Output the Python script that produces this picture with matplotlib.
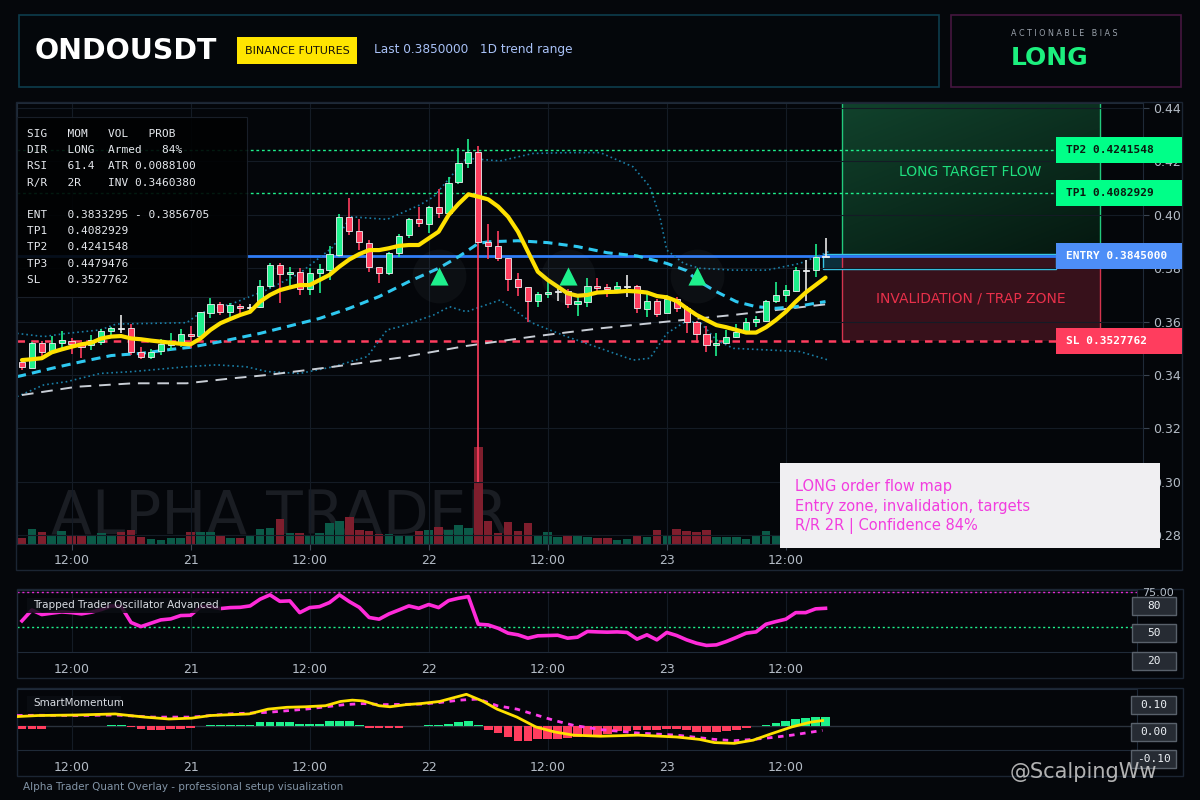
import matplotlib
matplotlib.use("Agg")
import matplotlib.pyplot as plt
import numpy as np
from matplotlib.patches import Rectangle
from matplotlib import transforms

# hourly candles, first bar = 20th 07:00
opens = [0.3450, 0.3428, 0.3519, 0.3488, 0.3519, 0.3527, 0.3515, 0.3512, 0.3525, 0.3566,
         0.3577, 0.3577, 0.3485, 0.3469, 0.3491, 0.3512, 0.3519, 0.3552, 0.3547, 0.3631,
         0.3665, 0.3635, 0.3660, 0.3652, 0.3656, 0.3735, 0.3812, 0.3778, 0.3787, 0.3721,
         0.3781, 0.3793, 0.3850, 0.3991, 0.3939, 0.3896, 0.3803, 0.3783, 0.3856, 0.3924,
         0.3983, 0.3966, 0.4028, 0.4006, 0.4122, 0.4193, 0.4234, 0.3897, 0.3884, 0.3837,
         0.3758, 0.3728, 0.3679, 0.3702, 0.3712, 0.3715, 0.3665, 0.3675, 0.3733, 0.3728,
         0.3721, 0.3731, 0.3733, 0.3646, 0.3677, 0.3631, 0.3685, 0.3650, 0.3597, 0.3552,
         0.3512, 0.3519, 0.3541, 0.3566, 0.3597, 0.3604, 0.3677, 0.3698, 0.3716, 0.3791,
         0.3793, 0.3843]
highs = [0.3450, 0.3525, 0.3529, 0.3546, 0.3565, 0.3540, 0.3531, 0.3550, 0.3571, 0.3581,
         0.3625, 0.3591, 0.3504, 0.3496, 0.3534, 0.3556, 0.3571, 0.3584, 0.3635, 0.3687,
         0.3675, 0.3669, 0.3666, 0.3666, 0.3756, 0.3818, 0.3818, 0.3806, 0.3800, 0.3800,
         0.3816, 0.3883, 0.4003, 0.4062, 0.3983, 0.3906, 0.3803, 0.3862, 0.3927, 0.3989,
         0.4031, 0.4033, 0.4095, 0.4140, 0.4251, 0.4283, 0.4258, 0.3966, 0.3939, 0.3837,
         0.3781, 0.3728, 0.3712, 0.3750, 0.3731, 0.3721, 0.3693, 0.3765, 0.3762, 0.3741,
         0.3747, 0.3775, 0.3737, 0.3706, 0.3685, 0.3700, 0.3693, 0.3659, 0.3604, 0.3584,
         0.3556, 0.3569, 0.3591, 0.3612, 0.3621, 0.3681, 0.3747, 0.3737, 0.3806, 0.3831,
         0.3891, 0.3914]
lows = [0.3419, 0.3425, 0.3469, 0.3481, 0.3494, 0.3478, 0.3463, 0.3494, 0.3512, 0.3541,
        0.3556, 0.3475, 0.3459, 0.3459, 0.3475, 0.3494, 0.3506, 0.3500, 0.3544, 0.3612,
        0.3625, 0.3619, 0.3634, 0.3644, 0.3650, 0.3725, 0.3669, 0.3731, 0.3700, 0.3700,
        0.3706, 0.3756, 0.3843, 0.3925, 0.3868, 0.3787, 0.3746, 0.3775, 0.3843, 0.3912,
        0.3956, 0.3931, 0.3987, 0.4006, 0.4114, 0.4177, 0.3000, 0.3833, 0.3828, 0.3716,
        0.3696, 0.3600, 0.3654, 0.3690, 0.3679, 0.3650, 0.3622, 0.3654, 0.3706, 0.3691,
        0.3709, 0.3693, 0.3634, 0.3616, 0.3616, 0.3631, 0.3635, 0.3559, 0.3521, 0.3488,
        0.3471, 0.3515, 0.3537, 0.3562, 0.3581, 0.3600, 0.3669, 0.3675, 0.3712, 0.3677,
        0.3768, 0.3843]
closes = [0.3431, 0.3519, 0.3488, 0.3519, 0.3531, 0.3516, 0.3506, 0.3531, 0.3565, 0.3577,
          0.3574, 0.3485, 0.3469, 0.3488, 0.3515, 0.3529, 0.3552, 0.3546, 0.3635, 0.3665,
          0.3635, 0.3661, 0.3650, 0.3656, 0.3735, 0.3812, 0.3778, 0.3787, 0.3721, 0.3781,
          0.3796, 0.3853, 0.3991, 0.3939, 0.3899, 0.3803, 0.3783, 0.3856, 0.3921, 0.3983,
          0.3968, 0.4028, 0.4006, 0.4120, 0.4193, 0.4234, 0.3897, 0.3884, 0.3837, 0.3758,
          0.3728, 0.3679, 0.3703, 0.3712, 0.3715, 0.3665, 0.3677, 0.3733, 0.3725, 0.3721,
          0.3733, 0.3733, 0.3650, 0.3677, 0.3627, 0.3685, 0.3650, 0.3597, 0.3552, 0.3512,
          0.3519, 0.3541, 0.3562, 0.3597, 0.3610, 0.3677, 0.3700, 0.3718, 0.3793, 0.3793,
          0.3843, 0.3846]
volume = [6, 15, 12, 9, 13, 9, 9, 8, 11, 9,
          12, 14, 7, 5, 4, 6, 6, 12, 12, 12,
          9, 6, 6, 8, 15, 16, 25, 11, 11, 8,
          11, 21, 23, 27, 14, 13, 10, 10, 8, 9,
          13, 14, 17, 14, 19, 16, 97, 23, 11, 22,
          13, 21, 9, 12, 7, 8, 8, 7, 6, 6,
          4, 5, 8, 7, 14, 9, 15, 13, 12, 14,
          7, 7, 7, 5, 8, 13, 9, 10, 11, 9,
          12, 10]

fast_ma = [0.3456, 0.3459, 0.3463, 0.3485, 0.3496, 0.3506, 0.3515, 0.3521, 0.3537, 0.3544,
           0.3546, 0.3537, 0.3534, 0.3529, 0.3525, 0.3521, 0.3517, 0.3515, 0.3537, 0.3569,
           0.3594, 0.3610, 0.3625, 0.3637, 0.3675, 0.3700, 0.3718, 0.3728, 0.3737, 0.3737,
           0.3756, 0.3775, 0.3806, 0.3833, 0.3853, 0.3868, 0.3868, 0.3875, 0.3884, 0.3887,
           0.3887, 0.3912, 0.3937, 0.3999, 0.4041, 0.4077, 0.4068, 0.4058, 0.4031, 0.3993,
           0.3937, 0.3862, 0.3787, 0.3756, 0.3731, 0.3706, 0.3697, 0.3700, 0.3709, 0.3711,
           0.3712, 0.3715, 0.3713, 0.3709, 0.3696, 0.3691, 0.3677, 0.3650, 0.3625, 0.3606,
           0.3587, 0.3579, 0.3569, 0.3559, 0.3559, 0.3579, 0.3606, 0.3637, 0.3675, 0.3709,
           0.3737, 0.3765]

mid_x = [-0.5, 0, 3, 6, 9, 12, 15, 17, 20, 24, 27, 30, 33, 36, 39, 42, 44, 46, 47, 50,
         53, 56, 59, 62, 65, 67, 68, 70, 72, 74, 76, 78, 80, 81]
mid_ma = [0.3394, 0.3398, 0.3425, 0.3450, 0.3473, 0.3481, 0.3496, 0.3504, 0.3525, 0.3556,
          0.3584, 0.3612, 0.3650, 0.3694, 0.3750, 0.3800, 0.3843, 0.3893, 0.3899, 0.3903,
          0.3896, 0.3881, 0.3858, 0.3846, 0.3818, 0.3791, 0.3756, 0.3712, 0.3675, 0.3656,
          0.3650, 0.3656, 0.3669, 0.3675]

slow_x = [0, 5.5, 11.2, 16.6, 21.3, 24.7, 31.4, 38.1, 44.8, 51.5, 58.3, 65.0, 71.7, 81.3]
slow_ma = [0.3325, 0.3356, 0.3369, 0.3369, 0.3388, 0.3400, 0.3431, 0.3465, 0.3509, 0.3544,
           0.3575, 0.3600, 0.3625, 0.3666]

up_x = [-0.5, 2.2, 4.5, 7.9, 9.5, 16.6, 17.9, 21.3, 24.7, 28.0, 31.4, 32.1, 33.1, 36.8,
        40.1, 41.5, 44.8, 48.2, 51.5, 54.9, 58.3, 61.6, 63.3, 64.3, 65.0, 66.7, 68.3, 71.7,
        75.1, 78.4, 81.3]
band_up = [0.3556, 0.3544, 0.3556, 0.3569, 0.3591, 0.3596, 0.3631, 0.3669, 0.3719, 0.3781,
           0.3881, 0.3931, 0.3993, 0.3983, 0.4037, 0.4068, 0.4212, 0.4202, 0.4230, 0.4233,
           0.4233, 0.4180, 0.4105, 0.3993, 0.3868, 0.3818, 0.3800, 0.3793, 0.3793, 0.3818,
           0.3862]
lo_x = [-0.5, 2.2, 4.5, 7.9, 11.2, 16.6, 19.6, 22.6, 24.7, 28.0, 31.4, 34.8, 36.8, 38.1,
        41.5, 43.1, 44.8, 48.2, 51.5, 54.9, 58.3, 61.6, 63.3, 65.0, 66.7, 68.3, 70.0, 71.7,
        75.1, 78.4, 81.3]
band_lo = [0.3319, 0.3363, 0.3375, 0.3406, 0.3413, 0.3431, 0.3438, 0.3431, 0.3413, 0.3406,
           0.3431, 0.3469, 0.3569, 0.3581, 0.3625, 0.3656, 0.3637, 0.3681, 0.3594, 0.3544,
           0.3500, 0.3456, 0.3463, 0.3556, 0.3596, 0.3600, 0.3531, 0.3500, 0.3494, 0.3488,
           0.3456]

sig_idx = [42, 55, 68]
sig_price = [0.3771, 0.3771, 0.3771]

tp1, tp2, entry, sl = 0.4082929, 0.4241548, 0.3845000, 0.3527762
entry_zone = (0.3797, 0.3853)
zone_x = (82.7, 108.7)
entry_box_x = (80.7, 104.2)

tick_idx = [5, 17, 29, 41, 53, 65, 77]
tick_lbl = ["12:00", "21", "12:00", "22", "12:00", "23", "12:00"]

osc = [54.3, 62.1, 58.8, 59.8, 60.7, 60.2, 59.3, 60.5, 62.4, 65.0,
       64.5, 53.1, 50.2, 52.6, 55.0, 55.7, 58.1, 58.3, 64.5, 64.5,
       63.1, 63.8, 64.0, 65.0, 69.8, 72.9, 68.3, 68.6, 60.2, 63.8,
       64.5, 67.4, 72.9, 68.1, 64.0, 56.7, 55.5, 59.3, 62.1, 65.0,
       63.3, 66.0, 63.8, 68.8, 70.5, 71.7, 51.9, 51.4, 49.0, 45.5,
       44.3, 41.9, 43.6, 43.8, 44.0, 41.9, 42.6, 46.7, 46.4, 46.2,
       46.4, 46.0, 41.2, 44.3, 40.7, 46.0, 43.8, 40.7, 38.3, 36.7,
       37.1, 39.5, 42.4, 45.5, 46.4, 51.9, 53.8, 55.5, 60.2, 60.2,
       62.9, 63.3]

mom_hist = [-0.009, -0.009, -0.009, 0.002, 0.002, 0.002, 0.002, 0.002, 0.002, 0.004,
            0.004, -0.004, -0.009, -0.012, -0.012, -0.010, -0.010, -0.006, 0.002, 0.007,
            0.007, 0.007, 0.007, 0.007, 0.015, 0.015, 0.015, 0.015, 0.008, 0.008,
            0.008, 0.019, 0.019, 0.019, 0.004, -0.005, -0.005, -0.005, -0.005, 0.002,
            0.003, 0.005, 0.006, 0.008, 0.016, 0.022, 0.004, -0.012, -0.025, -0.040,
            -0.054, -0.054, -0.049, -0.049, -0.046, -0.043, -0.040, -0.036, -0.033, -0.030,
            -0.019, -0.017, -0.015, -0.012, -0.012, -0.011, -0.011, -0.015, -0.021, -0.021,
            -0.021, -0.017, -0.015, -0.005, 0.002, 0.006, 0.011, 0.020, 0.027, 0.031,
            0.035, 0.035]
mom_x = [-0.5, 1.6, 5.5, 9.4, 10.1, 12.4, 14.8, 17.1, 19.0, 22.9, 24.8, 26.7, 28.6, 30.6,
         32.1, 33.3, 34.4, 36.0, 37.1, 38.7, 40.2, 42.1, 44.8, 46.4, 47.9, 49.9, 51.8, 53.7,
         55.6, 58.3, 62.1, 66.0, 68.3, 69.8, 71.8, 73.7, 75.6, 77.6, 79.5, 80.7]
mom_fast = [0.037, 0.041, 0.043, 0.047, 0.044, 0.035, 0.028, 0.031, 0.041, 0.047,
            0.065, 0.072, 0.074, 0.078, 0.094, 0.099, 0.096, 0.078, 0.074, 0.082,
            0.086, 0.094, 0.121, 0.096, 0.065, 0.035, -0.002, -0.021, -0.033, -0.037,
            -0.033, -0.040, -0.049, -0.061, -0.064, -0.052, -0.027, -0.002, 0.016, 0.022]
sig_x = [-0.5, 1.6, 5.5, 9.4, 13.2, 17.1, 20.9, 24.8, 28.6, 32.5, 34.4, 36.4, 40.2, 42.1,
         44.1, 46.0, 47.9, 49.9, 53.7, 55.6, 58.3, 62.1, 66.0, 69.8, 71.8, 73.7, 75.6, 77.6,
         80.7]
mom_slow = [0.041, 0.042, 0.041, 0.043, 0.035, 0.035, 0.047, 0.053, 0.065, 0.082,
            0.086, 0.082, 0.084, 0.090, 0.099, 0.103, 0.078, 0.065, 0.022, 0.004,
            -0.012, -0.025, -0.033, -0.049, -0.054, -0.049, -0.042, -0.033, -0.015]

info_lines = ["SIG   MOM   VOL   PROB",
              "DIR   LONG  Armed   84%",
              "RSI   61.4  ATR 0.0088100",
              "R/R   2R    INV 0.3460380",
              "",
              "ENT   0.3833295 - 0.3856705",
              "TP1   0.4082929",
              "TP2   0.4241548",
              "TP3   0.4479476",
              "SL    0.3527762"]

# colours
BG = "#05070b"
GREEN = "#1ef08c"
RED = "#ff3d5e"
DOJI = "#e6e6e6"
GRID = "#141b25"
SPINE = "#1f2a38"
TXT = "#b4bcc6"
W, H = 1200, 800

fig = plt.figure(figsize=(12, 8), dpi=100)
fig.patch.set_facecolor(BG)


def box(x0, y0, x1, y1, fc, ec="none", lw=1.0, z=-1, alpha=1.0):
    r = Rectangle((x0 / W, 1 - y1 / H), (x1 - x0) / W, (y1 - y0) / H,
                  transform=fig.transFigure, fc=fc, ec=ec, lw=lw, zorder=z, alpha=alpha)
    fig.add_artist(r)


def label(x, y, s, **kw):
    kw.setdefault("va", "center")
    kw.setdefault("zorder", 8)
    fig.text(x / W, 1 - y / H, s, **kw)


# header
box(19, 15, 939, 87, "#04070b", "#0d3c4c", 1.2)
box(951, 15, 1181, 87, "#04070b", "#45163f", 1.2)
label(35, 51, "ONDOUSDT", color="white", fontsize=20.5, fontweight="bold")
box(237, 37, 357, 64, "#ffe500", z=5)
label(297, 50.5, "BINANCE FUTURES", color="#15120a", fontsize=8, ha="center")
label(374, 50, "Last 0.3850000   1D trend range", color="#a8c1f7", fontsize=8.7)
label(1011, 34, "A C T I O N A B L E   B I A S", color="#9aa2ac", fontsize=5.8)
label(1011, 58, "LONG", color="#1cf07e", fontsize=18, fontweight="bold")

# panel frames
box(16, 102, 1182, 570, "#04060a", "#1b2533", 1.0)
box(17, 589, 1183, 678, "#04060a", "#1b2533", 1.0)
box(17, 688, 1183, 776, "#04060a", "#1b2533", 1.0)

# ---------------- main price panel ----------------
ax = fig.add_axes([17 / W, 1 - 544 / H, (1143 - 17) / W, (544 - 103) / H])
axv = ax.twinx()
ax.set_zorder(axv.get_zorder() + 1)
ax.patch.set_visible(False)
axv.patch.set_visible(False)
XL = (-0.5, 113.0)
YL = (0.2767, 0.4419)

idx = np.arange(len(opens))
o = np.array(opens)
c = np.array(closes)

# volume + watermark
vol_col = ["#0b5a48" if cc >= oo else "#7f1e2d" for oo, cc in zip(opens, closes)]
axv.text(0.03, 0.058, "ALPHA TRADER", transform=axv.transAxes, fontsize=43,
         color="#1a1d23", zorder=0.5, va="center")
axv.bar(idx, volume, width=0.86, color=vol_col, zorder=1)
axv.set_ylim(0, 441)
axv.set_yticks([])
axv.tick_params(right=False, labelright=False)
for s in axv.spines.values():
    s.set_visible(False)

# zones
gt = np.linspace(0, 1, 60)[:, None, None]
gx = np.linspace(0, 1, 60)[None, :, None]
top_c = np.array([0x11, 0x42, 0x2c]) / 255
bot_c = np.array([0x05, 0x18, 0x10]) / 255
img = top_c * (1 - 0.6 * gt - 0.4 * gx) + bot_c * (0.6 * gt + 0.4 * gx)
ax.imshow(img, extent=(zone_x[0], zone_x[1], entry_zone[1], YL[1]), aspect="auto",
          zorder=1.1, interpolation="bilinear")
ax.vlines(zone_x, entry_zone[1], YL[1], color="#22c97c", lw=1, zorder=1.2)
ax.add_patch(Rectangle((entry_box_x[0], entry_zone[0]), entry_box_x[1] - entry_box_x[0],
                       entry_zone[1] - entry_zone[0], fc="#0c2e3a", ec="none", zorder=1.2))
ax.add_patch(Rectangle((zone_x[0], sl), zone_x[1] - zone_x[0], 0.3849 - sl,
                       fc="#3a121d", ec="none", alpha=0.95, zorder=1.3))
ax.vlines(zone_x, sl, 0.3849, color="#d4344e", lw=1, zorder=1.35)
ax.add_patch(Rectangle((entry_box_x[0], entry_zone[0]), entry_box_x[1] - entry_box_x[0],
                       entry_zone[1] - entry_zone[0], fc="none", ec="#37c6e6", lw=1,
                       zorder=1.4))
ax.text(95.6, 0.4160, "LONG TARGET FLOW", color="#1fe07f", fontsize=10,
        ha="center", va="center", zorder=2)
ax.text(95.6, 0.3685, "INVALIDATION / TRAP ZONE", color="#e8304a", fontsize=10,
        ha="center", va="center", zorder=2)

# levels
ax.axhline(tp2, color=GREEN, lw=1, ls=(0, (2, 2)), zorder=2)
ax.axhline(tp1, color=GREEN, lw=1, ls=(0, (2, 2)), zorder=2)
ax.axhline(entry, color="#2f7cf6", lw=2, zorder=2)
ax.axhline(sl, color=RED, lw=1.8, ls=(0, (3, 2.5)), zorder=2)

# indicator lines
ax.plot(up_x, band_up, color="#1a7ea6", lw=1.2, ls=(0, (1, 1.8)), zorder=2.2)
ax.plot(lo_x, band_lo, color="#1a7ea6", lw=1.2, ls=(0, (1, 1.8)), zorder=2.2)
ax.plot(slow_x, slow_ma, color="#c9ced6", lw=1.4, ls=(0, (6, 4)), zorder=2.3)
ax.plot(mid_x, mid_ma, color="#2ec8f0", lw=2.2, ls=(0, (3, 2)), zorder=2.4)

# candles
body_col = []
for oo, cc in zip(opens, closes):
    if abs(cc - oo) < 0.0005:
        body_col.append(DOJI)
    elif cc > oo:
        body_col.append(GREEN)
    else:
        body_col.append(RED)
ax.vlines(idx, lows, highs, colors=body_col, lw=1.2, zorder=3)
ax.bar(idx, np.maximum(np.abs(c - o), 0.00025), bottom=np.minimum(o, c), width=0.62,
       color=body_col, edgecolor="#eef0f2", lw=0.6, zorder=4)

ax.plot(idx, fast_ma, color="#ffe100", lw=3, zorder=5, solid_capstyle="round")

# signals
ax.scatter(sig_idx, sig_price, marker="o", s=1500, color="#9aa3ad", alpha=0.06,
           lw=0, zorder=5)
ax.scatter(sig_idx, sig_price, marker="^", s=170, color=GREEN, lw=0, zorder=6)

ax.set_xlim(*XL)
ax.set_ylim(*YL)
ax.yaxis.tick_right()
ax.set_yticks(np.round(np.arange(0.28, 0.4401, 0.02), 2))
ax.set_yticklabels([f"{v:.2f}" for v in np.arange(0.28, 0.4401, 0.02)])
ax.set_xticks(tick_idx)
ax.set_xticklabels(tick_lbl)
ax.tick_params(colors="#3a4452", labelcolor=TXT, labelsize=9, length=4, pad=3)
ax.grid(True, color=GRID, lw=0.8)
for s in ax.spines.values():
    s.set_color(SPINE)

# info panel
box(17, 117, 247, 297, "#010203", "#1b222c", 0.8, z=5, alpha=0.9)
for k, line in enumerate(info_lines):
    label(27, 134 + 16.2 * k, line, color="#e6e9ee", fontsize=8, family="DejaVu Sans Mono")

# price labels at right
blend = transforms.blended_transform_factory(fig.transFigure, ax.transData)
hh = 13 * (YL[1] - YL[0]) / 441
for price, txt, fc, tc in [(tp2, "TP2 0.4241548", "#00ff88", "#0b1a10"),
                           (tp1, "TP1 0.4082929", "#00ff88", "#0b1a10"),
                           (entry, "ENTRY 0.3845000", "#4d8ef7", "white"),
                           (sl, "SL 0.3527762", "#ff3d5e", "white")]:
    fig.add_artist(Rectangle((1056 / W, price - hh), 126 / W, 2 * hh, transform=blend,
                             fc=fc, ec="none", zorder=6))
    fig.text(1066 / W, price, txt, transform=blend, color=tc, fontsize=8,
             fontweight="bold", family="DejaVu Sans Mono", va="center", zorder=7)

# order flow note
box(780, 463, 1160, 548, "#f0eff2", z=6)
for k, line in enumerate(["LONG order flow map", "Entry zone, invalidation, targets",
                          "R/R 2R | Confidence 84%"]):
    label(795, 486 + 20 * k, line, color="#f23ddf", fontsize=10.5)

# ---------------- oscillator panel ----------------
ax2 = fig.add_axes([17 / W, 1 - 652 / H, (1137 - 17) / W, (652 - 590) / H])
ax2.patch.set_visible(False)
ax2.plot(idx, osc, color="#ff2bd9", lw=2.6, zorder=3)
ax2.axhline(75, color="#e02ad0", lw=1, ls=(0, (1.5, 2)))
ax2.axhline(50, color=GREEN, lw=1, ls=(0, (1.5, 2)))
ax2.set_xlim(-0.5, 112.4)
ax2.set_ylim(32, 76.4)
ax2.yaxis.tick_right()
ax2.set_yticks([75])
ax2.set_yticklabels(["75.00"])
ax2.set_xticks(tick_idx)
ax2.set_xticklabels(tick_lbl)
ax2.tick_params(colors="#3a4452", labelcolor=TXT, labelsize=9, length=0, pad=8)
ax2.tick_params(axis="y", labelsize=8, pad=4)
ax2.grid(True, color=GRID, lw=0.8)
for s in ax2.spines.values():
    s.set_color(SPINE)
box(27, 598, 221, 613, "#0b0e13", z=5, alpha=0.85)
label(33, 605, "Trapped Trader Oscillator Advanced", color="#d9dde3", fontsize=7.5)
for yy, t in [(606, "80"), (633, "50"), (661, "20")]:
    box(1132, yy - 9, 1176, yy + 9, "#262b33", "#59616b", 1, z=6)
    label(1154, yy, t, color="#eef2f6", fontsize=8, ha="center", family="DejaVu Sans Mono")

# ---------------- momentum panel ----------------
ax3 = fig.add_axes([17 / W, 1 - 750 / H, (1137 - 17) / W, (750 - 689) / H])
ax3.patch.set_visible(False)
hist_col = [GREEN if v >= 0 else RED for v in mom_hist]
ax3.axhline(0, color="#2a323d", lw=1, zorder=1)
ax3.bar(idx, mom_hist, width=0.88, color=hist_col, zorder=2)
ax3.plot(sig_x, mom_slow, color="#ff3ce8", lw=2, ls=(0, (2, 2)), zorder=3)
ax3.plot(mom_x, mom_fast, color="#ffe100", lw=2, zorder=4)
ax3.set_xlim(-0.5, 112.4)
ax3.set_ylim(-0.089, 0.141)
ax3.set_yticks([])
ax3.set_xticks(tick_idx)
ax3.set_xticklabels(tick_lbl)
ax3.tick_params(colors="#3a4452", labelcolor=TXT, labelsize=9, length=0, pad=8)
ax3.grid(True, axis="x", color=GRID, lw=0.8)
for s in ax3.spines.values():
    s.set_color(SPINE)
box(27, 696, 121, 712, "#0b0e13", z=5, alpha=0.85)
label(33, 703, "SmartMomentum", color="#d9dde3", fontsize=7.5)
for yy, t in [(705, "0.10"), (732, "0.00"), (759, "-0.10")]:
    box(1131, yy - 9, 1176, yy + 9, "#262b33", "#59616b", 1, z=6)
    label(1154, yy, t, color="#eef2f6", fontsize=8, ha="center", family="DejaVu Sans Mono")

label(23, 787, "Alpha Trader Quant Overlay - professional setup visualization",
      color="#8294a6", fontsize=7.5)
label(1010, 772, "@ScalpingWw", color="#d0d0d0", fontsize=15, alpha=0.85)

fig.savefig("out.png", dpi=100, facecolor=BG)
